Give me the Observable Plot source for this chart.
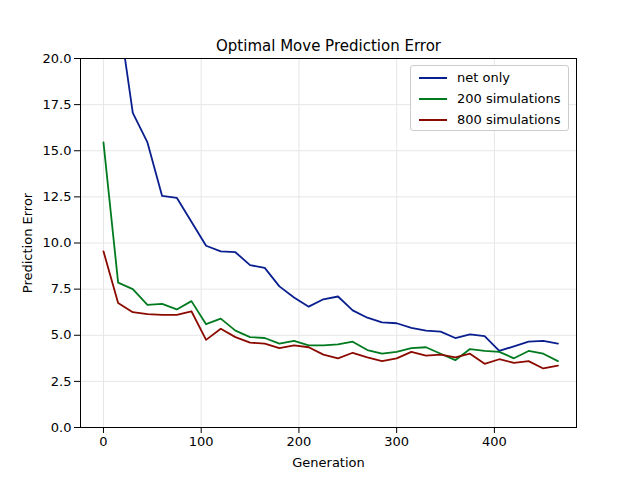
<!DOCTYPE html>
<html><head><meta charset="utf-8">
<script src="https://cdn.jsdelivr.net/npm/d3@7"></script>
<script src="https://cdn.jsdelivr.net/npm/@observablehq/plot@0.6"></script>
<style>
body{margin:0;background:#fff;font-family:"DejaVu Sans",sans-serif;}
#wrap{position:relative;width:640px;height:480px;}
#legend{position:absolute;left:410px;top:65px;width:157px;height:64px;border:1px solid #ccc;border-radius:3px;background:#fff;font-size:13px;}
.row{position:absolute;left:8px;display:flex;align-items:center;}
.sw{width:28px;height:2px;margin-right:10px;}
</style></head><body><div id="wrap"><div id="legend"></div></div>
<script>
const generations = d3.range(0, 466, 15);
const seriesNames = ["net only", "200 simulations", "800 simulations"];
const colors = ["#0a1f8f", "#007a1f", "#8b0a00"];
const netOnly = [30,22.6,17.05,15.45,12.55,12.45,11.15,9.85,9.55,9.5,8.8,8.65,7.65,7.05,6.55,6.95,7.1,6.35,5.95,5.7,5.65,5.4,5.25,5.2,4.85,5.05,4.95,4.15,4.4,4.65,4.7,4.55];
const sim200 = [15.45,7.85,7.5,6.65,6.7,6.4,6.85,5.6,5.9,5.25,4.9,4.85,4.55,4.7,4.45,4.45,4.5,4.65,4.2,4.0,4.1,4.3,4.35,4.0,3.65,4.25,4.15,4.1,3.75,4.15,4.0,3.6];
const sim800 = [9.55,6.75,6.25,6.15,6.1,6.1,6.3,4.75,5.35,4.9,4.6,4.55,4.3,4.45,4.35,3.95,3.75,4.05,3.8,3.6,3.75,4.1,3.9,3.95,3.8,4.0,3.45,3.7,3.5,3.6,3.2,3.35];
const yTicks = [0,2.5,5,7.5,10,12.5,15,17.5,20];
const xTicks = [0,100,200,300,400];
const all = [netOnly, sim200, sim800];
const data = [];
all.forEach((s,i)=>s.forEach((v,j)=>data.push({g:generations[j], v, s:seriesNames[i]})));
const plot = Plot.plot({
  width:640, height:480, marginLeft:80, marginRight:64, marginTop:58, marginBottom:53,
  style:{fontFamily:"DejaVu Sans, sans-serif", fontSize:"13px", color:"#000"},
  x:{domain:[-23.5,484], ticks:xTicks, tickFormat:d=>d, label:"Generation", labelAnchor:"center", labelOffset:40, tickSize:4},
  y:{domain:[0,20], ticks:yTicks, tickFormat:d=>d.toFixed(1), label:"Prediction Error", labelAnchor:"center", labelOffset:55, tickSize:4},
  color:{domain:seriesNames, range:colors},
  marks:[
    Plot.gridX(xTicks,{stroke:"#e6e6e6", strokeOpacity:1}),
    Plot.gridY(yTicks,{stroke:"#e6e6e6", strokeOpacity:1}),
    Plot.line(data,{x:"g", y:"v", stroke:"s", strokeWidth:1.8, clip:true}),
    Plot.frame({stroke:"#000"}),
    Plot.axisX({ticks:xTicks, tickFormat:d=>d, label:"Generation", labelAnchor:"center", labelArrow:"none", labelOffset:39, fontSize:13}),
    Plot.axisY({ticks:yTicks, tickFormat:d=>d.toFixed(1), label:"Prediction Error", labelAnchor:"center", labelArrow:"none", labelOffset:58, fontSize:13}),
    Plot.text(["Optimal Move Prediction Error"],{frameAnchor:"top", dy:-8, fontSize:15, lineAnchor:"bottom"})
  ]
});
document.getElementById("wrap").prepend(plot);
const lg = document.getElementById("legend");
seriesNames.forEach((n,i)=>{
  const r=document.createElement("div"); r.className="row"; r.style.top=(4+i*21)+"px";
  r.innerHTML=`<div class="sw" style="background:${colors[i]}"></div><span>${n}</span>`;
  lg.appendChild(r);
});
</script></body></html>
